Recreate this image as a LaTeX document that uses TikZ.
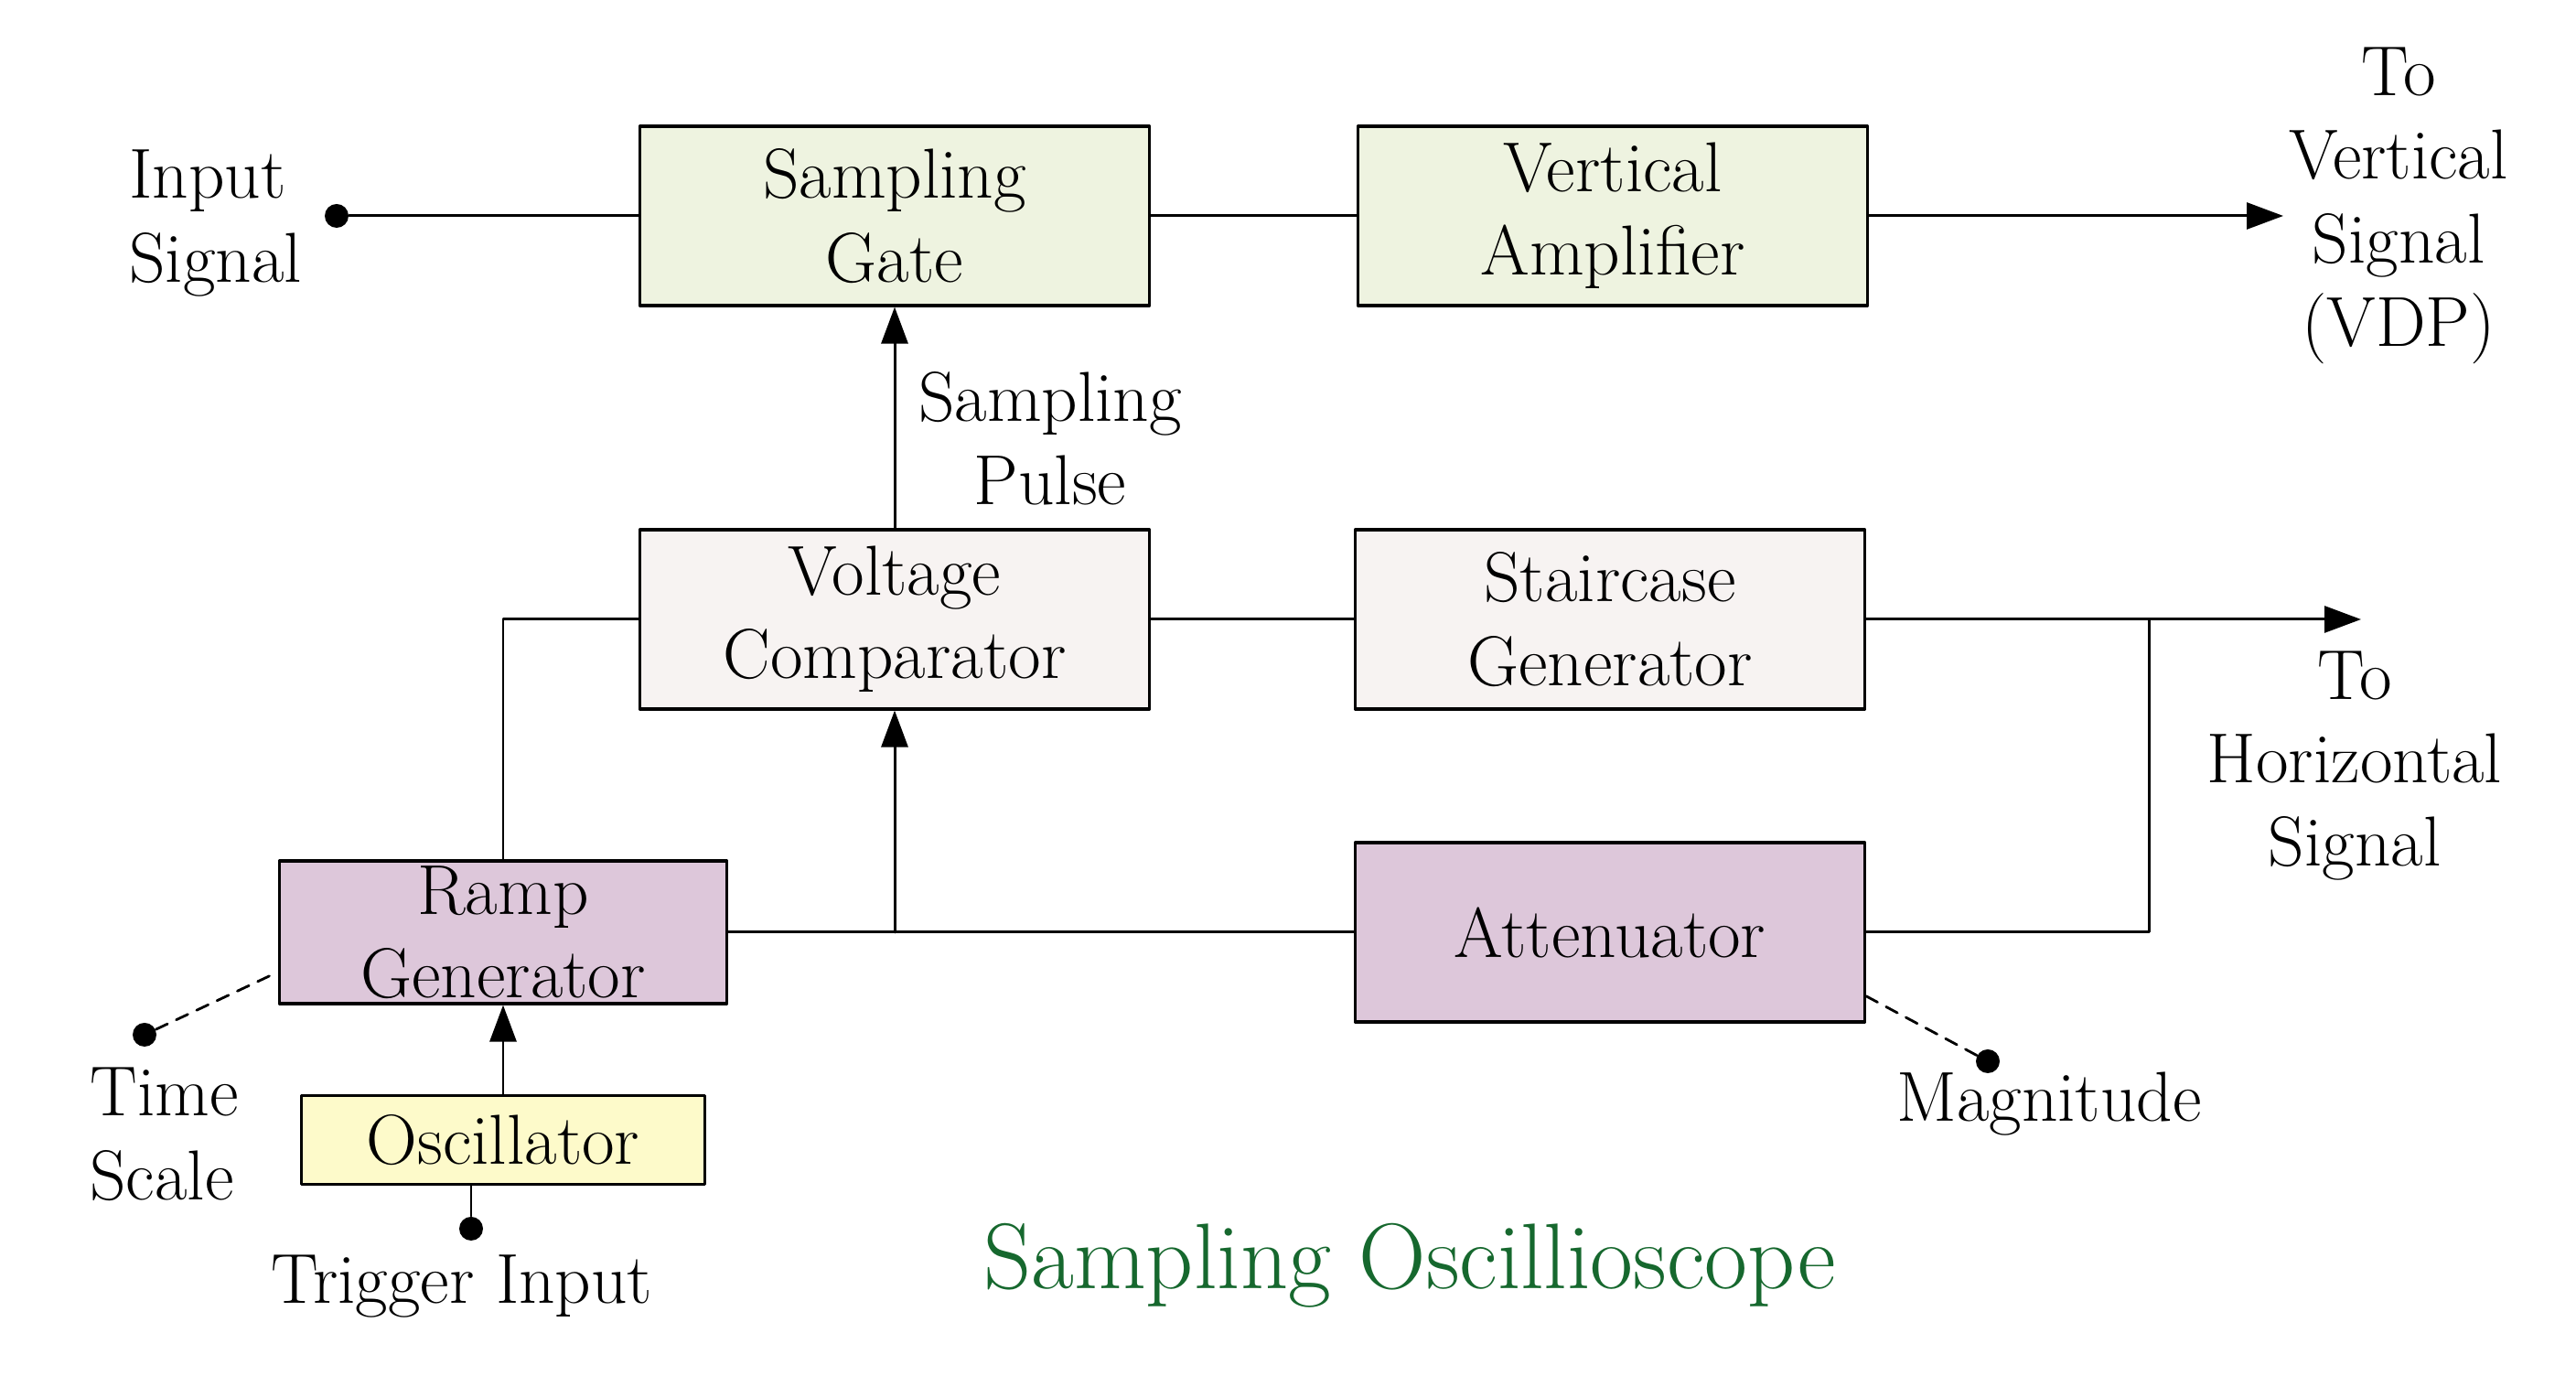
\documentclass[tikz,border=0pt]{standalone}
\usepackage{xcolor}
\usepackage{tikz}
\usetikzlibrary{arrows.meta}

\definecolor{verdino}{RGB}{238,243,224}
\definecolor{rosino}{RGB}{247,243,242}
\definecolor{lilla}{RGB}{221,199,218}
\definecolor{giallino}{RGB}{253,250,202}
\definecolor{verdescuro}{RGB}{22,104,46}

\begin{document}
\begin{tikzpicture}[
    x=1cm,
    y=1cm,
    >={Triangle[length=0.40cm,width=0.29cm]},
    line cap=round,
    line join=round,
    blocco/.style={draw, line width=0.9pt, minimum width=5.57cm,
        minimum height=1.96cm, inner sep=0pt, align=center,
        font=\fontsize{22}{26}\selectfont},
    testo/.style={align=center, font=\fontsize{22}{26}\selectfont},
    punto/.style={circle, fill, inner sep=0pt, minimum size=0.26cm},
    filo/.style={line width=0.85pt},
    tratto/.style={line width=0.8pt, dash pattern=on 4pt off 3pt}
]

\useasboundingbox (0,0) rectangle (28.16,15.04);

% Blocchi
\node[blocco, fill=verdino] (campion) at (9.78,12.68) {Sampling\\Gate};
\node[blocco, fill=verdino] (verticale) at (17.63,12.68) {Vertical\\Amplifier};
\node[blocco, fill=rosino] (comparatore) at (9.78,8.27) {Voltage\\Comparator};
\node[blocco, fill=rosino] (scala) at (17.60,8.27) {Staircase\\Generator};
\node[blocco, fill=lilla, minimum width=4.89cm, minimum height=1.56cm] (rampa) at (5.50,4.85) {};
\node[testo] (rampaT) at (rampa.center) {Ramp\\Generator};
\node[blocco, fill=lilla] (attenuatore) at (17.60,4.85) {Attenuator};
\node[blocco, fill=giallino, minimum width=4.41cm, minimum height=0.97cm] (oscillatore) at (5.50,2.58) {Oscillator};

% Punti
\node[punto] (ingresso) at (3.68,12.68) {};
\node[punto] (tempo) at (1.58,3.73) {};
\node[punto] (trigger) at (5.15,1.61) {};
\node[punto] (grandezza) at (21.73,3.44) {};

\coordinate (uscV) at (24.96,12.68);
\coordinate (uscH) at (25.81,8.27);
\coordinate (nodoH) at (23.49,8.27);

% Collegamenti
\draw[filo] (ingresso) -- (campion.west);
\draw[filo] (campion.east) -- (verticale.west);
\draw[filo,->] (verticale.east) -- (uscV);
\draw[filo,->] (comparatore.north) -- (campion.south);
\draw[filo] (comparatore.east) -- (scala.west);
\draw[filo,->] (scala.east) -- (uscH);
\draw[filo] (attenuatore.east) -| (nodoH);
\draw[filo] (rampa.north) |- (comparatore.west);
\draw[filo] (rampa.east) -- (attenuatore.west);
\draw[filo,->] (comparatore.south |- rampa.east) -- (comparatore.south);
\draw[filo,->] (oscillatore.north) -- (rampa.south);
\draw[filo] (trigger) -- (trigger |- oscillatore.south);
\draw[tratto] (tempo) -- (rampa.190);
\draw[tratto] (grandezza) -- (attenuatore.-14);

% Testi
\node[testo, align=left, anchor=west] (tIngresso) at (1.29,12.60) {Input\\Signal};
\node[testo] (tVerticale) at (26.22,12.79) {To\\Vertical\\Signal\\(VDP)};
\node[testo] (tImpulso) at (11.48,10.25) {Sampling\\Pulse};
\node[testo] (tOrizz) at (25.74,6.67) {To\\Horizontal\\Signal};
\node[testo, align=left, anchor=west] (tTempo) at (0.86,2.64) {Time\\Scale};
\node[testo] (tTrigger) at (5.05,0.98) {Trigger Input};
\node[testo] (tGrandezza) at (22.40,2.97) {Magnitude};
\node[verdescuro, font=\fontsize{29}{34}\selectfont] (titolo) at (15.41,1.21) {Sampling Oscillioscope};

\end{tikzpicture}
\end{document}
